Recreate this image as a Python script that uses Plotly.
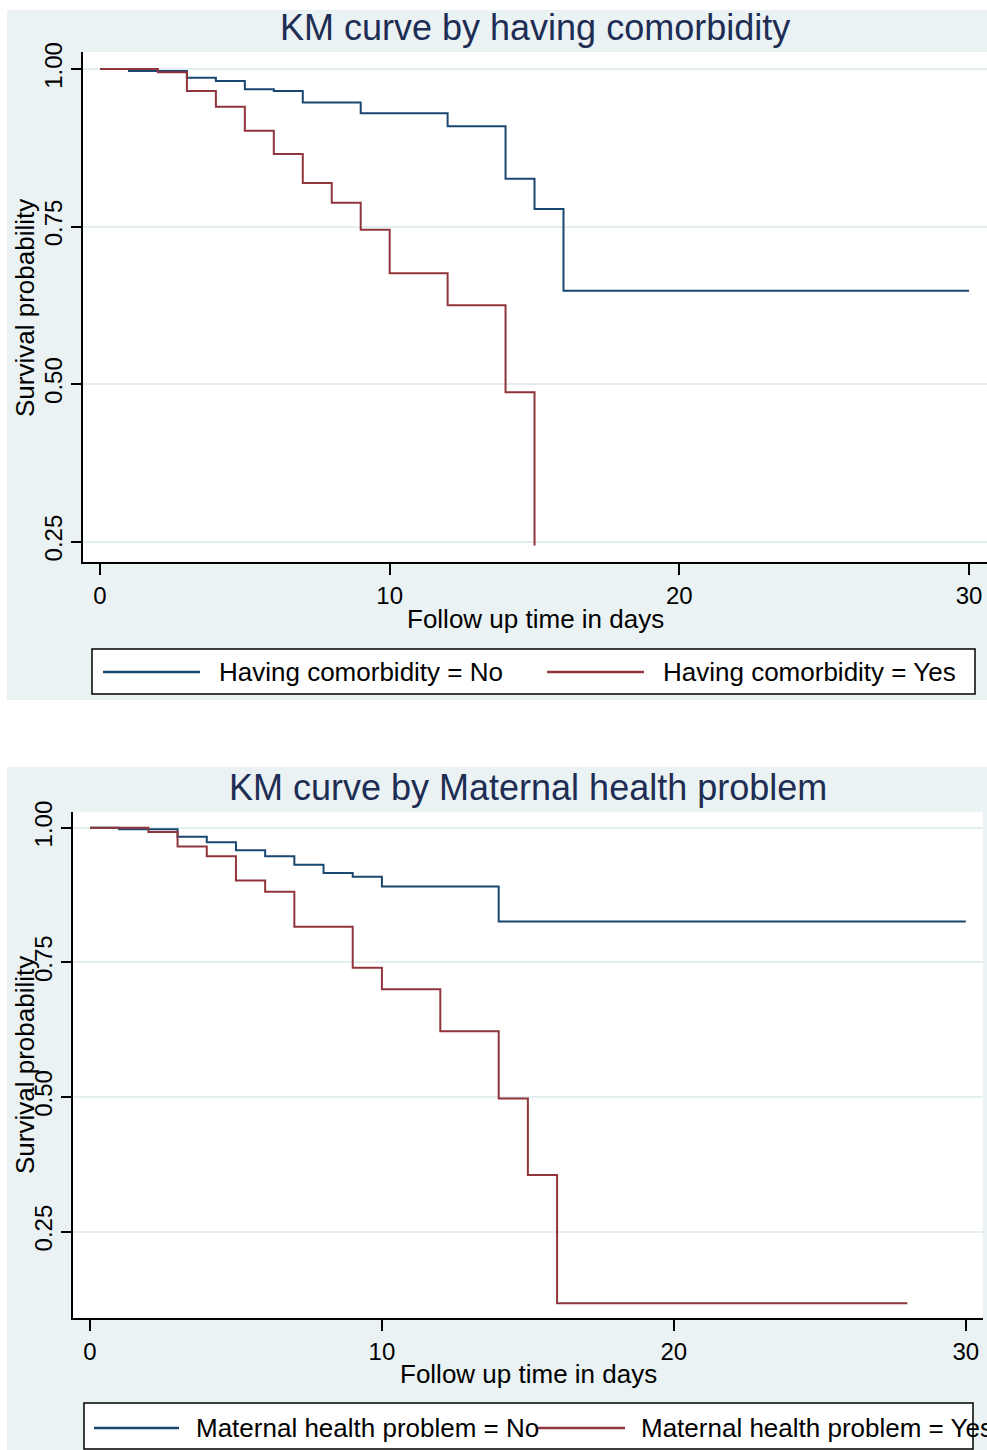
import plotly.graph_objects as go

# ---------------- data ----------------
# Panel 1: by having comorbidity
como_no_t = [0, 1, 3, 4, 5, 6, 7, 9, 12, 14, 15, 16, 30]
como_no_s = [1.0, 0.997, 0.986, 0.981, 0.968, 0.965, 0.947, 0.930, 0.909, 0.826, 0.778, 0.648, 0.648]
como_yes_t = [0, 2, 3, 4, 5, 6, 7, 8, 9, 10, 12, 14, 15]
como_yes_s = [1.0, 0.995, 0.965, 0.940, 0.902, 0.865, 0.819, 0.788, 0.745, 0.676, 0.625, 0.487, 0.244]

# Panel 2: by maternal health problem
mat_no_t = [0, 1, 3, 4, 5, 6, 7, 8, 9, 10, 14, 30]
mat_no_s = [1.0, 0.997, 0.983, 0.973, 0.958, 0.947, 0.931, 0.916, 0.909, 0.891, 0.826, 0.826]
mat_yes_t = [0, 2, 3, 4, 5, 6, 7, 9, 10, 12, 14, 15, 16, 28]
mat_yes_s = [1.0, 0.992, 0.965, 0.947, 0.902, 0.881, 0.816, 0.740, 0.700, 0.622, 0.497, 0.355, 0.117, 0.117]

titles = ["KM curve by having comorbidity", "KM curve by Maternal health problem"]
legend_labels_1 = ["Having comorbidity = No", "Having comorbidity = Yes"]
legend_labels_2 = ["Maternal health problem = No", "Maternal health problem = Yes"]
x_ticks = [0, 10, 20, 30]
y_ticks = [0.25, 0.50, 0.75, 1.00]
y_ticktext = ["0.25", "0.50", "0.75", "1.00"]
x_title = "Follow up time in days"
y_title = "Survival probability"

# ---------------- style ----------------
W, H = 987, 1450
BLUE = "#1a476f"
RED = "#90353b"
PANEL = "#eaf2f3"
GRID = "#e4eef0"
TITLE_C = "#1e2d53"
FONT = "Liberation Sans, Arial, sans-serif"

def px(x):
    return x / W

def py(y):
    return 1 - y / H

fig = go.Figure()

fig.add_trace(go.Scatter(x=como_no_t, y=como_no_s, mode="lines", line=dict(color=BLUE, width=2, shape="hv"),
                         name=legend_labels_1[0], xaxis="x", yaxis="y", showlegend=False))
fig.add_trace(go.Scatter(x=como_yes_t, y=como_yes_s, mode="lines", line=dict(color=RED, width=2, shape="hv"),
                         name=legend_labels_1[1], xaxis="x", yaxis="y", showlegend=False))
fig.add_trace(go.Scatter(x=mat_no_t, y=mat_no_s, mode="lines", line=dict(color=BLUE, width=2, shape="hv"),
                         name=legend_labels_2[0], xaxis="x2", yaxis="y2", showlegend=False))
fig.add_trace(go.Scatter(x=mat_yes_t, y=mat_yes_s, mode="lines", line=dict(color=RED, width=2, shape="hv"),
                         name=legend_labels_2[1], xaxis="x2", yaxis="y2", showlegend=False))

xcommon = dict(tickmode="array", tickvals=x_ticks, ticks="outside", ticklen=11, tickwidth=1.5,
               tickcolor="black", showline=True, linecolor="black", linewidth=1.5, showgrid=False,
               zeroline=False, tickfont=dict(family=FONT, size=24, color="black"), automargin=False)
ycommon = dict(tickmode="array", tickvals=y_ticks, ticktext=y_ticktext, ticks="outside", ticklen=10,
               tickwidth=1.5, tickcolor="black", showline=True, linecolor="black", linewidth=1.5,
               showgrid=True, gridcolor=GRID, gridwidth=2, zeroline=False, tickangle=-90,
               tickfont=dict(family=FONT, size=24, color="black"), automargin=False)

# plot-area pixel boxes (left, right, top, bottom)
P1 = (83, 987, 52, 562.3)
P2 = (73, 982.7, 811.7, 1318.3)

fig.update_layout(
    width=W, height=H, margin=dict(l=0, r=0, t=0, b=0),
    paper_bgcolor="white", plot_bgcolor="white", showlegend=False,
    xaxis=dict(domain=[px(P1[0]), px(P1[1])], range=[-0.587, 30.62], anchor="y", **xcommon),
    yaxis=dict(domain=[py(P1[3]), py(P1[2])], range=[0.2173, 1.027], anchor="x", **ycommon),
    xaxis2=dict(domain=[px(P2[0]), px(P2[1])], range=[-0.582, 30.58], anchor="y2", **xcommon),
    yaxis2=dict(domain=[py(P2[3]), py(P2[2])], range=[0.0891, 1.0297], anchor="x2", **ycommon),
)

shapes = []
# panel backgrounds
shapes.append(dict(type="rect", xref="paper", yref="paper", x0=px(7), x1=1, y0=py(700), y1=py(10),
                   fillcolor=PANEL, line=dict(width=0), layer="below"))
shapes.append(dict(type="rect", xref="paper", yref="paper", x0=px(7), x1=1, y0=0, y1=py(767),
                   fillcolor=PANEL, line=dict(width=0), layer="below"))
# white plot areas
for (l, r, t, b) in (P1, P2):
    shapes.append(dict(type="rect", xref="paper", yref="paper", x0=px(l), x1=px(r), y0=py(b), y1=py(t),
                       fillcolor="white", line=dict(width=0), layer="below"))

annotations = []
# titles
annotations.append(dict(text=titles[0], x=px(535), y=py(28), xref="paper", yref="paper",
                        showarrow=False, xanchor="center", yanchor="middle",
                        font=dict(family=FONT, size=36, color=TITLE_C)))
annotations.append(dict(text=titles[1], x=px(528), y=py(787), xref="paper", yref="paper",
                        showarrow=False, xanchor="center", yanchor="middle",
                        font=dict(family=FONT, size=36, color=TITLE_C)))
# axis titles
for (xc, yc) in [(535, 619), (528, 1374)]:
    annotations.append(dict(text=x_title, x=px(xc), y=py(yc), xref="paper", yref="paper",
                            showarrow=False, xanchor="center", yanchor="middle",
                            font=dict(family=FONT, size=26, color="black")))
for (xc, yc) in [(25, 308), (25, 1065)]:
    annotations.append(dict(text=y_title, x=px(xc), y=py(yc), xref="paper", yref="paper",
                            showarrow=False, xanchor="center", yanchor="middle", textangle=-90,
                            font=dict(family=FONT, size=26, color="black")))

# legends (drawn boxes)
legends = [
    dict(box=(92, 975, 649, 694), yc=672, items=[(103, 200, 217, BLUE, legend_labels_1[0]),
                                                   (547, 644, 661, RED, legend_labels_1[1])]),
    dict(box=(84, 973, 1403, 1449), yc=1428, items=[(94, 179, 194, BLUE, legend_labels_2[0]),
                                                      (538, 625, 639, RED, legend_labels_2[1])]),
]
for lg in legends:
    x0, x1, y0, y1 = lg["box"]
    shapes.append(dict(type="rect", xref="paper", yref="paper", x0=px(x0), x1=px(x1), y0=py(y1), y1=py(y0),
                       fillcolor="white", line=dict(color="black", width=1.5)))
    for (lx0, lx1, tx, col, lab) in lg["items"]:
        shapes.append(dict(type="line", xref="paper", yref="paper", x0=px(lx0), x1=px(lx1),
                           y0=py(lg["yc"]), y1=py(lg["yc"]), line=dict(color=col, width=2.5)))
        annotations.append(dict(text=lab, x=px(tx), y=py(lg["yc"]), xref="paper", yref="paper",
                                showarrow=False, xanchor="left", yanchor="middle",
                                font=dict(family=FONT, size=26, color="black")))

fig.update_layout(shapes=shapes, annotations=annotations)

fig.write_html("out.html")
